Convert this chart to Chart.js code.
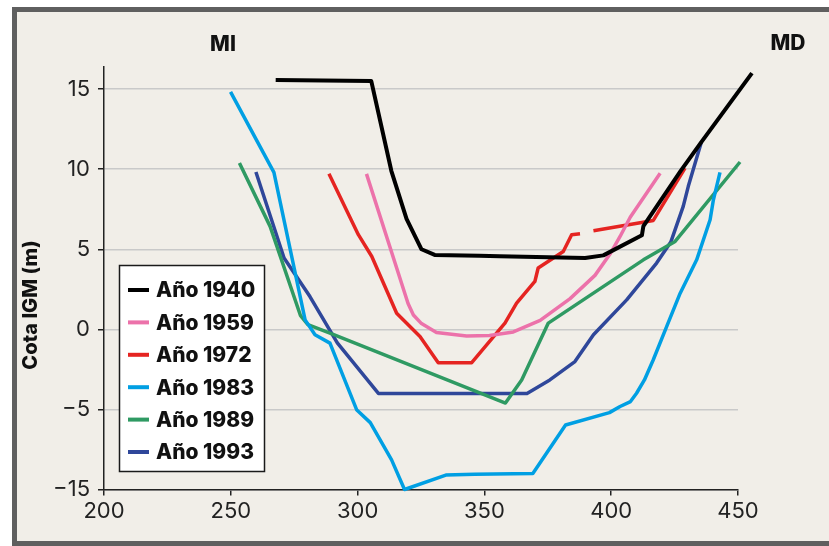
<!DOCTYPE html>
<html>
<head>
<meta charset="utf-8">
<script src="https://cdn.jsdelivr.net/npm/chart.js@4"></script>
<style>
  html, body { margin: 0; padding: 0; background: #fff; }
  #frame { position: absolute; left: 12px; top: 7px; width: 817px; height: 539px; box-sizing: border-box;
           border: 5px solid #5f5f5f; border-right: none; background: #f1eee8; }
  #wrap { position: absolute; left: 0; top: 0; width: 829px; height: 546px; }
</style>
</head>
<body>
<div id="frame"></div>
<div id="wrap"><canvas id="chart" width="829" height="546"></canvas></div>
<script>
// cross sections, distance (x) and elevation IGM in m (y)
var labels = ['Año 1940', 'Año 1959', 'Año 1972', 'Año 1983', 'Año 1989', 'Año 1993'];
var colors = ['#000000', '#ec72aa', '#e52421', '#009fe3', '#2f9a63', '#2f479a'];

var x1940 = [267.7, 305.4, 313.3, 319.3, 325.2, 330.4, 348, 356, 389.7, 396.9, 412.1, 412.7, 427.4, 435.1, 455.5];
var y1940 = [15.57, 15.5, 9.9, 6.9, 5.0, 4.65, 4.6, 4.56, 4.45, 4.62, 5.87, 6.45, 9.9, 11.6, 16.0];

var x1959 = [303.5, 319.9, 322, 325.2, 331.1, 343, 352, 361.4, 372, 383.8, 393.6, 399.6, 403.5, 407.5, 419.3];
var y1959 = [9.71, 1.61, 0.9, 0.36, -0.2, -0.41, -0.38, -0.16, 0.56, 1.92, 3.37, 4.72, 5.8, 7.0, 9.75];

var x1972 = [288.7, 300.3, 305.6, 315.4, 324.6, 331.8, 345, 358.1, 362.7, 369.9, 371.2, 381.1, 384.4, 387.7, 390, 393, 416.6, 429.1];
var y1972 = [9.71, 5.91, 4.55, 1.01, -0.45, -2.08, -2.08, 0.39, 1.64, 2.99, 3.83, 4.86, 5.91, 5.97, null, 6.16, 6.8, 10.07];

var x1983 = [249.9, 267, 279.3, 283.2, 289.1, 299.6, 305, 313.4, 318.5, 334.8, 346.1, 369.1, 382, 399.3, 403.5, 407.6, 410, 413.1, 416.6, 421.9, 427.2, 433.7, 439, 440.3, 442.9];
var y1983 = [14.83, 9.8, 0.59, -0.34, -0.86, -5.03, -6.65, -11.3, -15, -13.2, -13.1, -13.0, -6.94, -5.4, -4.82, -4.51, -3.99, -3.16, -1.9, 0.18, 2.26, 4.34, 6.84, 8.09, 9.8];

var x1989 = [253.4, 265.5, 277.5, 280.4, 289.1, 358.3, 364.7, 375.2, 412.7, 425.2, 450.8];
var y1989 = [10.39, 6.43, 0.85, 0.3, -0.24, -4.6, -3.16, 0.39, 4.34, 5.49, 10.45];

var x1993 = [259.9, 271, 281.2, 292, 308.2, 366.8, 375.8, 385.7, 393, 406.1, 417.9, 423.5, 428.4, 430.4, 435.5];
var y1993 = [9.83, 4.45, 2.05, -0.85, -4.0, -4.0, -3.16, -2.01, -0.34, 1.84, 4.14, 5.45, 7.68, 8.93, 11.66];

var xTicks = [200, 250, 300, 350, 400, 450];
var yTicks = [-15, -5, 0, 5, 10, 15];

var xs = [x1940, x1959, x1972, x1983, x1989, x1993];
var ys = [y1940, y1959, y1972, y1983, y1989, y1993];

// the y axis is broken below -5: that part is drawn at half scale
function squash(v) { return v < -5 ? -5 + (v + 5) / 2 : v; }
function unsquash(v) { return v < -5 ? -5 + (v + 5) * 2 : v; }

class BrokenScale extends Chart.LinearScale {
  getPixelForValue(value) { return super.getPixelForValue(squash(value)); }
  getValueForPixel(pixel) { return unsquash(super.getValueForPixel(pixel)); }
}
BrokenScale.id = 'broken';
BrokenScale.defaults = Chart.LinearScale.defaults;
Chart.register(BrokenScale);

var datasets = labels.map(function (lab, i) {
  return {
    label: lab,
    data: xs[i].map(function (x, j) { return { x: x, y: ys[i][j] }; }),
    borderColor: colors[i],
    backgroundColor: colors[i],
    borderWidth: i === 0 ? 4 : 3.5,
    pointRadius: 0,
    tension: 0,
    spanGaps: false,
    clip: false,
    borderJoinStyle: 'round'
  };
});

var extras = {
  id: 'extras',
  afterDatasetsDraw: function (chart) {
    var ctx = chart.ctx;
    ctx.save();
    ctx.fillStyle = '#ffffff';
    ctx.fillRect(119.5, 265.5, 145, 206);
    ctx.strokeStyle = '#1a1a1a';
    ctx.lineWidth = 1.5;
    ctx.strokeRect(119.5, 265.5, 145, 206);
    ctx.font = '800 21px Inter';
    ctx.textBaseline = 'middle';
    chart.data.datasets.forEach(function (ds, i) {
      var y = 290 + i * 32.4;
      ctx.strokeStyle = ds.borderColor;
      ctx.lineWidth = 4;
      ctx.beginPath();
      ctx.moveTo(128, y);
      ctx.lineTo(149, y);
      ctx.stroke();
      ctx.fillStyle = '#111';
      ctx.fillText(ds.label, 156, y + 1);
    });

    ctx.font = '800 21px Inter';
    ctx.textAlign = 'center';
    ctx.fillStyle = '#111';
    ctx.fillText('MI', 223, 45);
    ctx.fillText('MD', 788, 44);

    ctx.translate(31, 305);
    ctx.rotate(-Math.PI / 2);
    ctx.font = '800 20px Inter';
    ctx.fillText('Cota IGM (m)', 0, 0);
    ctx.restore();
  }
};

new Chart(document.getElementById('chart'), {
  type: 'line',
  data: { datasets: datasets },
  options: {
    responsive: false,
    animation: false,
    layout: { padding: { left: 0, right: 91, top: 66.7, bottom: 0 } },
    plugins: { legend: { display: false }, tooltip: { enabled: false } },
    scales: {
      x: {
        type: 'linear',
        min: 200,
        max: 450,
        afterBuildTicks: function (s) { s.ticks = xTicks.map(function (v) { return { value: v }; }); },
        afterFit: function (s) { s.height = 56.5; },
        grid: { drawOnChartArea: false, tickColor: '#222', tickLength: 6, lineWidth: 1.5 },
        border: { color: '#222', width: 1.5 },
        ticks: { color: '#222', font: { family: 'Inter', size: 22 }, padding: 3, maxRotation: 0 }
      },
      y: {
        type: 'broken',
        min: -10,
        max: 16.4,
        bounds: 'data',
        afterBuildTicks: function (s) { s.ticks = yTicks.map(function (v) { return { value: v }; }); },
        afterFit: function (s) { s.width = 104; },
        grid: { color: '#c9c9c9', lineWidth: 1.5, tickColor: '#222', tickLength: 6 },
        border: { color: '#222', width: 1.5 },
        ticks: {
          color: '#222',
          font: { family: 'Inter', size: 22 },
          padding: 8,
          callback: function (v) { return v < 0 ? '\u2212' + Math.abs(v) : String(v); }
        }
      }
    }
  },
  plugins: [extras]
});
</script>
</body>
</html>
